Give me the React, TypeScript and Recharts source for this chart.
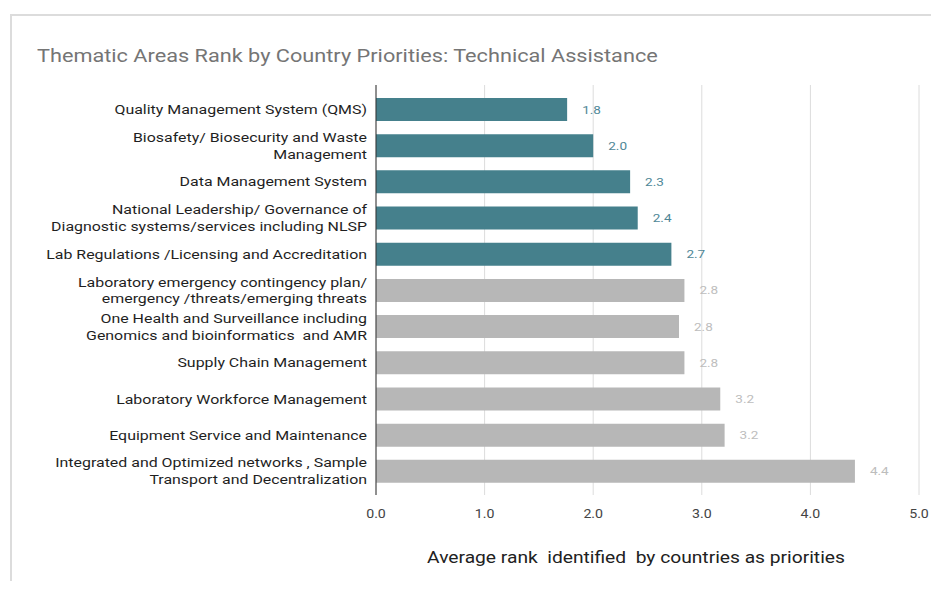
import React from 'react';
import { BarChart, Bar, XAxis, YAxis, CartesianGrid, Cell, LabelList } from 'recharts';

// thematic areas, line breaks as in the original chart
const areas = [
  'Quality Management System (QMS)',
  'Biosafety/ Biosecurity and Waste\nManagement',
  'Data Management System',
  'National Leadership/ Governance of\nDiagnostic systems/services including NLSP',
  'Lab Regulations /Licensing and Accreditation',
  'Laboratory emergency contingency plan/\nemergency /threats/emerging threats',
  'One Health and Surveillance including\nGenomics and bioinformatics  and AMR',
  'Supply Chain Management',
  'Laboratory Workforce Management',
  'Equipment Service and Maintenance',
  'Integrated and Optimized networks , Sample\nTransport and Decentralization',
];
const avgRank = [1.76, 2.0, 2.34, 2.41, 2.72, 2.84, 2.79, 2.84, 3.17, 3.21, 4.41];
const topFive = [true, true, true, true, true, false, false, false, false, false, false];
const rankTicks = [0, 1, 2, 3, 4, 5];

const TEAL = '#45808c';
const GREY = '#b7b7b7';
// the source picture is a bit stretched sideways, so text gets the same squeeze
const STRETCH = 1.18;

const data = areas.map((area, i) => ({ area, rank: avgRank[i], top: topFive[i] }));

function AreaTick(props: any) {
  const { x, y, payload } = props;
  const lines = String(payload.value).split('\n');
  const lh = 17;
  const first = -((lines.length - 1) * lh) / 2 + 5;
  return (
    <g transform={`translate(${x},${y}) scale(${STRETCH},1)`}>
      <text x={0} y={0} textAnchor="end" fill="#1f1f1f" fontSize={13.5} style={{ whiteSpace: 'pre' }}>
        {lines.map((l, i) => (
          <tspan key={i} x={0} dy={i === 0 ? first : lh}>{l}</tspan>
        ))}
      </text>
    </g>
  );
}

function RankTick(props: any) {
  const { x, y, payload } = props;
  return (
    <g transform={`translate(${x},${y}) scale(${STRETCH},1)`}>
      <text x={0} y={9} textAnchor="middle" fill="#444" fontSize={12}>
        {Number(payload.value).toFixed(1)}
      </text>
    </g>
  );
}

function ValueLabel(props: any) {
  const { x, y, width, height, value, index } = props;
  return (
    <g transform={`translate(${x + width + 15},${y + height / 2 + 4}) scale(${STRETCH},1)`}>
      <text x={0} y={0} fill={topFive[index] ? '#4f8797' : '#bdbdbd'} fontSize={11.5}>
        {Number(value).toFixed(1)}
      </text>
    </g>
  );
}

export default function App() {
  return (
    <div style={{ position: 'relative', margin: -8, width: 939, height: 589, overflow: 'hidden', background: '#fff', fontFamily: 'Roboto, sans-serif' }}>
      <div style={{ position: 'absolute', left: 10, top: 14, width: 960, height: 620, border: '2px solid #dcdcdc', boxSizing: 'border-box' }} />
      <div style={{ position: 'absolute', left: 37, top: 46, fontSize: 17.5, color: '#757575', whiteSpace: 'nowrap', transform: 'scaleX(1.24)', transformOrigin: 'left center' }}>
        Thematic Areas Rank by Country Priorities: Technical Assistance
      </div>
      <div style={{ position: 'absolute', left: 0, top: 0 }}>
        <BarChart
          width={939}
          height={589}
          data={data}
          layout="vertical"
          margin={{ top: 85, right: 20, bottom: 24, left: 0 }}
          barSize={23}
        >
          <CartesianGrid horizontal={false} stroke="#dcdcdc" />
          <XAxis
            type="number"
            domain={[0, 5]}
            ticks={rankTicks}
            axisLine={false}
            tickLine={false}
            tickMargin={8}
            height={70}
            tick={<RankTick />}
          />
          <YAxis
            type="category"
            dataKey="area"
            width={376}
            axisLine={{ stroke: '#333' }}
            tickLine={false}
            tickMargin={3}
            interval={0}
            padding={{ top: 6, bottom: 6 }}
            tick={<AreaTick />}
          />
          <Bar dataKey="rank" isAnimationActive={false}>
            {data.map((d, i) => (
              <Cell key={i} fill={d.top ? TEAL : GREY} />
            ))}
            <LabelList dataKey="rank" content={<ValueLabel />} />
          </Bar>
        </BarChart>
      </div>
      <div style={{ position: 'absolute', left: 636, top: 548, fontSize: 16, color: '#212121', whiteSpace: 'pre', transform: 'translateX(-50%) scaleX(1.2)' }}>
        {'Average rank  identified  by countries as priorities'}
      </div>
    </div>
  );
}
